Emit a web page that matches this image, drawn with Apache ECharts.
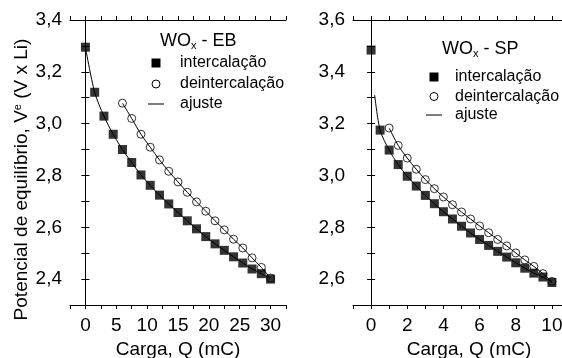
<!DOCTYPE html>
<html>
<head>
<meta charset="utf-8">
<script src="https://cdn.jsdelivr.net/npm/echarts@6.0.0/dist/echarts.min.js"></script>
<style>
  html, body { margin: 0; padding: 0; background: #fff; }
  #chart { width: 562px; height: 358px; }
</style>
</head>
<body>
<div id="chart"></div>
<script>
// WOx - EB
const ebInterX = [0, 1.5, 3, 4.5, 6, 7.5, 9, 10.5, 12, 13.5, 15, 16.5, 18, 19.5, 21, 22.5, 24, 25.5, 27, 28.5, 30];
const ebInterY = [3.295, 3.121, 3.029, 2.959, 2.900, 2.850, 2.802, 2.762, 2.724, 2.690, 2.657, 2.625, 2.594, 2.564, 2.536, 2.511, 2.486, 2.462, 2.439, 2.421, 2.400];
const ebDeintX = [6, 7.5, 9, 10.5, 12, 13.5, 15, 16.5, 18, 19.5, 21, 22.5, 24, 25.5, 27, 28.5, 30];
const ebDeintY = [3.079, 3.020, 2.959, 2.909, 2.860, 2.816, 2.775, 2.735, 2.698, 2.662, 2.625, 2.590, 2.554, 2.520, 2.482, 2.445, 2.404];

// WOx - SP
const spInterX = [0, 0.5, 1, 1.5, 2, 2.5, 3, 3.5, 4, 4.5, 5, 5.5, 6, 6.5, 7, 7.5, 8, 8.5, 9, 9.5, 10];
const spInterY = [3.484, 3.175, 3.098, 3.042, 2.997, 2.959, 2.923, 2.891, 2.860, 2.832, 2.804, 2.778, 2.753, 2.730, 2.707, 2.685, 2.663, 2.642, 2.623, 2.608, 2.587];
const spDeintX = [1, 1.5, 2, 2.5, 3, 3.5, 4, 4.5, 5, 5.5, 6, 6.5, 7, 7.5, 8, 8.5, 9, 9.5, 10];
const spDeintY = [3.183, 3.116, 3.067, 3.024, 2.984, 2.949, 2.917, 2.887, 2.859, 2.832, 2.805, 2.779, 2.753, 2.728, 2.701, 2.674, 2.649, 2.621, 2.591];
// the SP intercalation fit starts a little past the first point
const spFitStart = [0.2, 3.31];

const xName = 'Carga, Q (mC)';
const yName = 'Potencial de equilíbrio, V{sup|e} (V x Li)';
const legendNames = ['intercalação', 'deintercalação', 'ajuste'];

const FONT = "'Liberation Sans', Arial, sans-serif";
const zip = (xs, ys) => xs.map((x, i) => [x, ys[i]]);
const comma = v => v.toFixed(1).replace('.', ',');

const axisLine = { lineStyle: { color: '#000', width: 1 } };
const axisTick = { inside: false, length: 4, lineStyle: { color: '#000', width: 1 } };
const labelStyle = { color: '#000', fontSize: 19, fontFamily: FONT };

function xAxes(gridIndex, min, max, interval, step, namePad) {
  return [
    {
      type: 'value', gridIndex, min, max, interval,
      name: xName, nameLocation: 'middle', nameGap: 35,
      nameTextStyle: { color: '#000', fontSize: 19, fontFamily: FONT, padding: namePad },
      axisLine, axisTick, splitLine: { show: false },
      axisLabel: {
        ...labelStyle, margin: 11,
        formatter: v => (Math.abs(v / step - Math.round(v / step)) < 1e-6 && v >= 0 ? String(Math.round(v)) : '')
      }
    },
    {
      type: 'value', gridIndex, min, max, interval, position: 'top',
      axisLine, axisTick, splitLine: { show: false }, axisLabel: { show: false }
    }
  ];
}

function yAxes(gridIndex, min, max, withName) {
  const main = {
    type: 'value', gridIndex, min, max, interval: 0.1,
    axisLine, axisTick, splitLine: { show: false },
    axisLabel: {
      ...labelStyle, margin: 8,
      formatter: v => (Math.round(v * 10) % 2 === 0 && v > min + 0.01 ? comma(v) : '')
    }
  };
  if (withName) {
    Object.assign(main, {
      name: yName, nameLocation: 'middle', nameRotate: 90, nameGap: 38,
      nameTextStyle: {
        color: '#000', fontSize: 19, fontFamily: FONT, padding: [0, 34, 0, 0],
        rich: { sup: { fontSize: 11, fontFamily: FONT, color: '#000', verticalAlign: 'top', padding: [0, 0, 8, 0] } }
      }
    });
  }
  return [
    main,
    {
      type: 'value', gridIndex, min, max, interval: 0.1, position: 'right',
      axisLine, axisTick, splitLine: { show: false }, axisLabel: { show: false }
    }
  ];
}

function pts(xIdx, yIdx, data, square) {
  return {
    type: 'scatter', xAxisIndex: xIdx, yAxisIndex: yIdx, data,
    symbol: square ? 'rect' : 'circle', symbolSize: square ? 9 : 8,
    itemStyle: square ? { color: '#000' } : { color: '#fff', borderColor: '#000', borderWidth: 1 },
    z: square ? 3 : 2, silent: true
  };
}

function fit(xIdx, yIdx, data) {
  return {
    type: 'line', xAxisIndex: xIdx, yAxisIndex: yIdx, data,
    smooth: 0.3, showSymbol: false, symbol: 'none',
    lineStyle: { color: '#000', width: 1 }, z: 4, silent: true
  };
}

function legend(x0, titleX, titleY, rows, textX, title) {
  const g = [
    {
      type: 'text', x: titleX, y: titleY,
      style: {
        text: title, fill: '#000', fontSize: 18, fontFamily: FONT, verticalAlign: 'middle',
        rich: { sub: { fontSize: 11, fontFamily: FONT, fill: '#000', verticalAlign: 'bottom', padding: [10, 0, 0, 0] } }
      }
    },
    { type: 'rect', shape: { x: x0 - 4.5, y: rows[0] - 4.5, width: 9, height: 9 }, style: { fill: '#000' } },
    { type: 'circle', shape: { cx: x0, cy: rows[1], r: 4 }, style: { fill: '#fff', stroke: '#000', lineWidth: 1 } },
    { type: 'line', shape: { x1: x0 - 8, y1: rows[2], x2: x0 + 8, y2: rows[2] }, style: { stroke: '#000', lineWidth: 1 } }
  ];
  legendNames.forEach((name, i) => {
    g.push({
      type: 'text', x: textX, y: rows[i],
      style: { text: name, fill: '#000', fontSize: 16, fontFamily: FONT, verticalAlign: 'middle' }
    });
  });
  return g;
}

const chart = echarts.init(document.getElementById('chart'), null, { renderer: 'canvas' });

const option = {
  animation: false,
  backgroundColor: '#fff',
  textStyle: { fontFamily: FONT },
  grid: [
    { left: 70, top: 20, width: 216, height: 285, containLabel: false, outerBoundsMode: 'none' },
    { left: 353, top: 20, width: 217, height: 285, containLabel: false, outerBoundsMode: 'none' }
  ],
  xAxis: [
    ...xAxes(0, -2.5, 32.5, 2.5, 5, [0, 0, 0, 0]),
    ...xAxes(1, -1, 11, 1, 2, [0, 0, 0, 15])
  ],
  yAxis: [
    ...yAxes(0, 2.3, 3.4, true),
    ...yAxes(1, 2.5, 3.6, false)
  ],
  series: [
    pts(0, 0, zip(ebDeintX, ebDeintY), false),
    pts(0, 0, zip(ebInterX, ebInterY), true),
    fit(0, 0, zip(ebInterX, ebInterY)),
    fit(0, 0, zip(ebDeintX, ebDeintY)),

    pts(2, 2, zip(spDeintX, spDeintY), false),
    pts(2, 2, zip(spInterX, spInterY), true),
    fit(2, 2, [spFitStart].concat(zip(spInterX, spInterY).slice(1))),
    fit(2, 2, zip(spDeintX, spDeintY))
  ],
  graphic: [
    ...legend(156, 160, 41, [63, 84, 104], 180, 'WO{sub|x} - EB'),
    ...legend(434, 442, 49, [77, 96.5, 115], 455, 'WO{sub|x} - SP')
  ]
};

chart.setOption(option);
</script>
</body>
</html>
